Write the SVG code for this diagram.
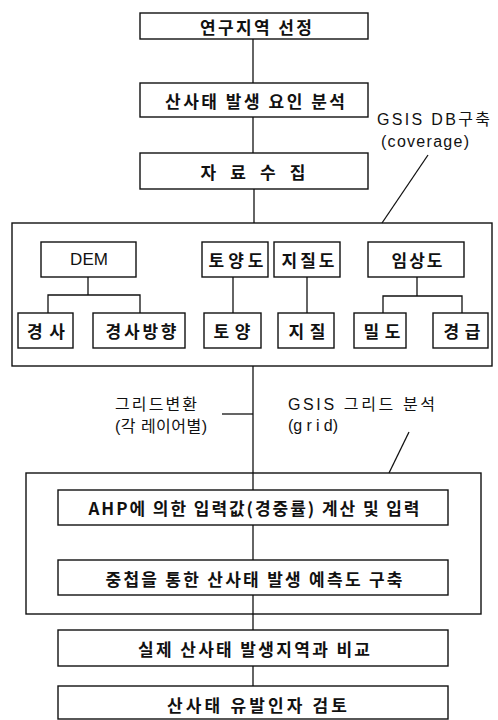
<svg xmlns="http://www.w3.org/2000/svg" width="498" height="720" viewBox="0 0 498 720">
<style>
.bx{fill:none;stroke:#111;stroke-width:1.4}
.ln{fill:none;stroke:#111;stroke-width:1.3}
.t{font-family:"Noto Sans CJK KR","Noto Sans",sans-serif;font-size:17px;font-weight:700;fill:#111;text-anchor:middle;dominant-baseline:central}
.s{font-family:"Liberation Sans","Noto Sans CJK KR",sans-serif;font-size:16px;fill:#111;dominant-baseline:central}
.d{font-family:"Liberation Sans",sans-serif;font-size:17px;fill:#111;text-anchor:middle;dominant-baseline:central}
</style>
<rect width="498" height="720" fill="#fff"/>
<g id="connectors">
<line class="ln" x1="253" y1="39" x2="253" y2="83"/>
<line class="ln" x1="253" y1="117" x2="253" y2="153"/>
<line class="ln" x1="254" y1="189" x2="254" y2="223"/>
<line class="ln" x1="253" y1="366" x2="253" y2="490"/>
<line class="ln" x1="253" y1="525" x2="253" y2="560"/>
<line class="ln" x1="253" y1="595" x2="253" y2="630"/>
<line class="ln" x1="253" y1="666" x2="253" y2="686"/>
<polyline class="ln" points="88,277 88,295"/>
<polyline class="ln" points="48,313 48,295 140,295 140,313"/>
<line class="ln" x1="233" y1="277" x2="233" y2="313"/>
<line class="ln" x1="307" y1="277" x2="307" y2="313"/>
<polyline class="ln" points="417,277 417,296"/>
<polyline class="ln" points="383,313 383,296 462,296 462,313"/>
<line class="ln" x1="428" y1="155" x2="382" y2="223"/>
<line class="ln" x1="409" y1="432" x2="389" y2="473"/>
<line class="ln" x1="222" y1="414" x2="253" y2="414"/>
</g>
<g id="n1"><rect class="bx" x="140" y="13" width="228" height="26"/><text class="t" x="256" y="26" textLength="112" lengthAdjust="spacing">연구지역 선정</text></g>
<g id="n2"><rect class="bx" x="140" y="83" width="228" height="34"/><text class="t" x="255" y="100" textLength="180" lengthAdjust="spacing">산사태 발생 요인 분석</text></g>
<g id="n3"><rect class="bx" x="140" y="153" width="228" height="36"/><text class="t" x="253" y="171" textLength="105" lengthAdjust="spacing">자 료 수 집</text></g>
<g id="lbl1"><text class="s" x="377" y="119" textLength="113" lengthAdjust="spacing">GSIS  DB구축</text><text class="s" x="381" y="141" textLength="88" lengthAdjust="spacing">(coverage)</text></g>
<g id="g1"><rect class="bx" x="12" y="223" width="480" height="143"/></g>
<g id="dem"><rect class="bx" x="41" y="242" width="95" height="35"/><text class="d" x="89" y="259" textLength="38" lengthAdjust="spacing">DEM</text></g>
<g id="toyangdo"><rect class="bx" x="202" y="242" width="66" height="35"/><text class="t" x="236" y="259" textLength="55" lengthAdjust="spacing">토양도</text></g>
<g id="jijildo"><rect class="bx" x="274" y="242" width="66" height="35"/><text class="t" x="308" y="259" textLength="53" lengthAdjust="spacing">지질도</text></g>
<g id="imsangdo"><rect class="bx" x="368" y="242" width="96" height="35"/><text class="t" x="417" y="259" textLength="51" lengthAdjust="spacing">임상도</text></g>
<g id="gyeongsa"><rect class="bx" x="18" y="313" width="55" height="35"/><text class="t" x="46" y="330" textLength="38" lengthAdjust="spacing">경사</text></g>
<g id="gyeongsabanghyang"><rect class="bx" x="93" y="313" width="92" height="35"/><text class="t" x="141" y="330" textLength="71" lengthAdjust="spacing">경사방향</text></g>
<g id="toyang"><rect class="bx" x="204" y="313" width="57" height="35"/><text class="t" x="232" y="330" textLength="37" lengthAdjust="spacing">토양</text></g>
<g id="jijil"><rect class="bx" x="278" y="313" width="56" height="35"/><text class="t" x="307" y="330" textLength="37" lengthAdjust="spacing">지질</text></g>
<g id="mildo"><rect class="bx" x="354" y="313" width="52" height="35"/><text class="t" x="382" y="330" textLength="37" lengthAdjust="spacing">밀도</text></g>
<g id="gyeonggeup"><rect class="bx" x="433" y="313" width="55" height="35"/><text class="t" x="462" y="330" textLength="37" lengthAdjust="spacing">경급</text></g>
<g id="lbl2"><text class="s" x="115" y="404" textLength="82" lengthAdjust="spacing">그리드변환</text><text class="s" x="115" y="426" textLength="92" lengthAdjust="spacing">(각 레이어별)</text></g>
<g id="lbl3"><text class="s" x="288" y="404" textLength="147" lengthAdjust="spacing">GSIS 그리드 분석</text><text class="s" x="288" y="425" textLength="50" lengthAdjust="spacing">(g r i d)</text></g>
<g id="g2"><rect class="bx" x="26" y="473" width="455" height="141"/></g>
<g id="n4"><rect class="bx" x="58" y="490" width="390" height="35"/><text class="t" x="254" y="507" textLength="331" lengthAdjust="spacing">AHP에 의한 입력값(경중률) 계산 및 입력</text></g>
<g id="n5"><rect class="bx" x="58" y="560" width="390" height="35"/><text class="t" x="254" y="578" textLength="297" lengthAdjust="spacing">중첩을 통한 산사태 발생 예측도 구축</text></g>
<g id="n6"><rect class="bx" x="58" y="630" width="390" height="36"/><text class="t" x="254" y="648" textLength="232" lengthAdjust="spacing">실제 산사태 발생지역과 비교</text></g>
<g id="n7"><rect class="bx" x="58" y="686" width="390" height="33"/><text class="t" x="257" y="704" textLength="180" lengthAdjust="spacing">산사태 유발인자 검토</text></g>
</svg>
